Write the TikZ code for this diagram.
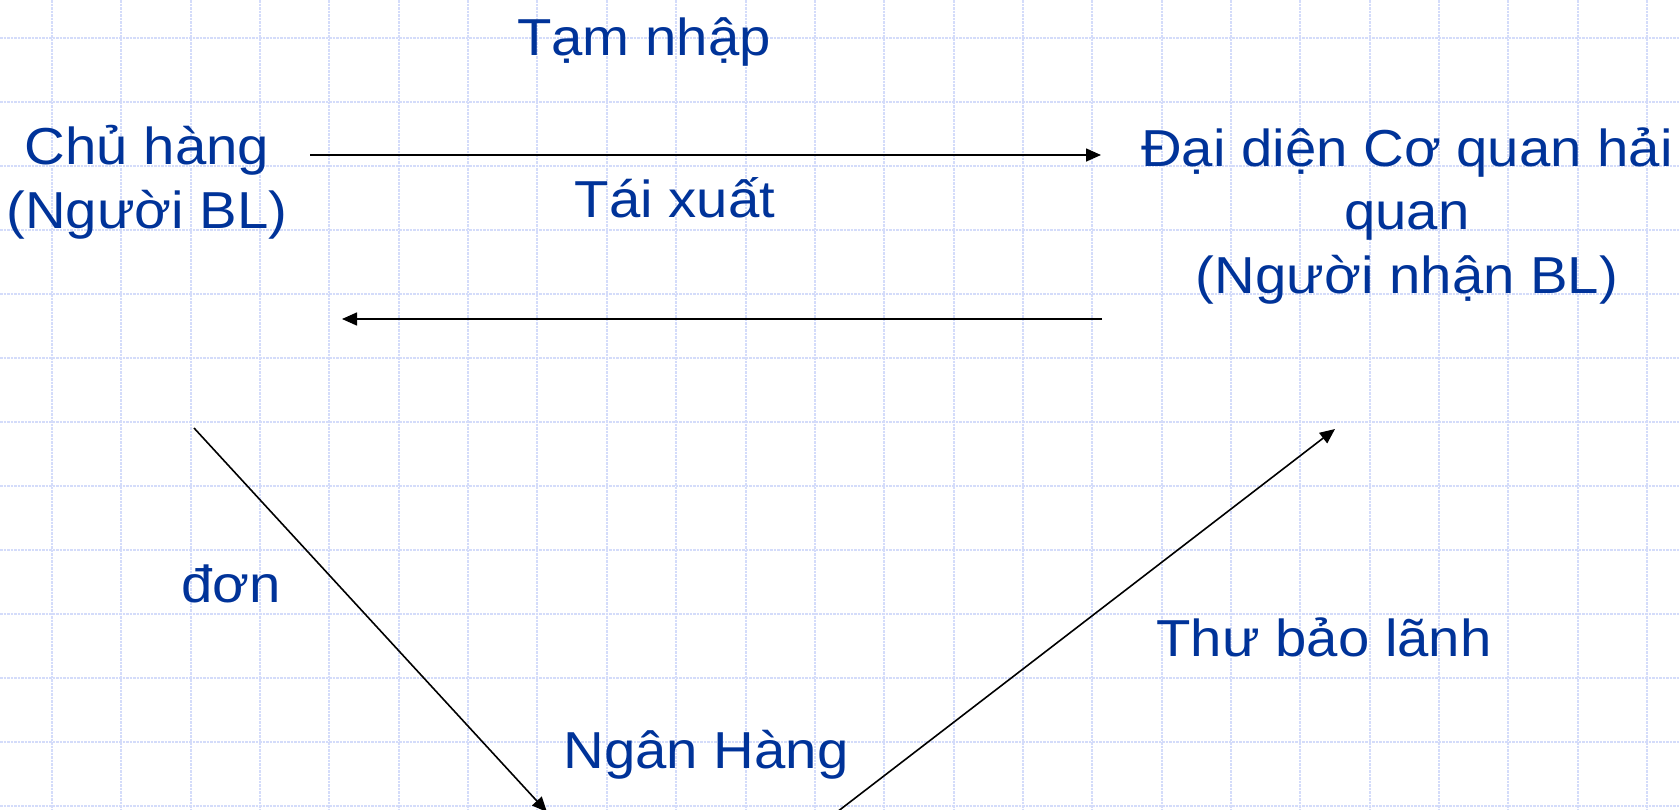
\documentclass[tikz,border=0pt]{standalone}
\usepackage{fontspec}
\setmainfont{Liberation Sans}[FakeStretch=1.083]
\usetikzlibrary{arrows.meta}
\definecolor{txtblue}{RGB}{0,51,153}
\definecolor{gridblue}{RGB}{212,220,250}
\begin{document}
\begin{tikzpicture}[x=1pt,y=-1pt,
  lbl/.style={inner sep=0pt, anchor=base, text=txtblue, font=\fontsize{52}{63.5}\selectfont, align=center},
  conn/.style={line width=1.6pt, draw=black, -{Triangle[length=15pt,width=13pt]}},
  gridline/.style={draw=gridblue, line width=2pt, dash pattern=on 2.5pt off 1pt}]
\useasboundingbox (0,0) rectangle (1680,809);
\fill[white] (0,0) rectangle (1680,809);
\begin{scope}
\clip (0,0) rectangle (1680,809);
\foreach \i in {0,...,23} \draw[gridline] ({52+69.35*\i},0) -- ({52+69.35*\i},809);
\foreach \j in {0,...,12} \draw[gridline] (0,{38+64*\j}) -- (1680,{38+64*\j});

\node[lbl] (owner) at (147,228) {Chủ hàng\\(Người BL)};
\node[lbl] (customs) at (1407,293) {Đại diện Cơ quan hải\\quan\\(Người nhận BL)};
\node[lbl] (bank) at (706,768) {Ngân Hàng};
\node[lbl] (tn) at (644,55) {Tạm nhập};
\node[lbl] (tx) at (675,217) {Tái xuất};
\node[lbl] (don) at (231,602) {đơn};
\node[lbl] (tbl) at (1324,656) {Thư bảo lãnh};

\coordinate (a1s) at (310,155); \coordinate (a1e) at (1101,155);
\coordinate (a2s) at (1102,319); \coordinate (a2e) at (342,319);
\coordinate (a3s) at (194,428); \coordinate (a3e) at (547,812);
\coordinate (a4s) at (837,812); \coordinate (a4e) at (1335,429);

\draw[conn] (a1s) -- (a1e);
\draw[conn] (a2s) -- (a2e);
\draw[conn] (a3s) -- (a3e);
\draw[conn] (a4s) -- (a4e);
\end{scope}
\end{tikzpicture}
\end{document}
